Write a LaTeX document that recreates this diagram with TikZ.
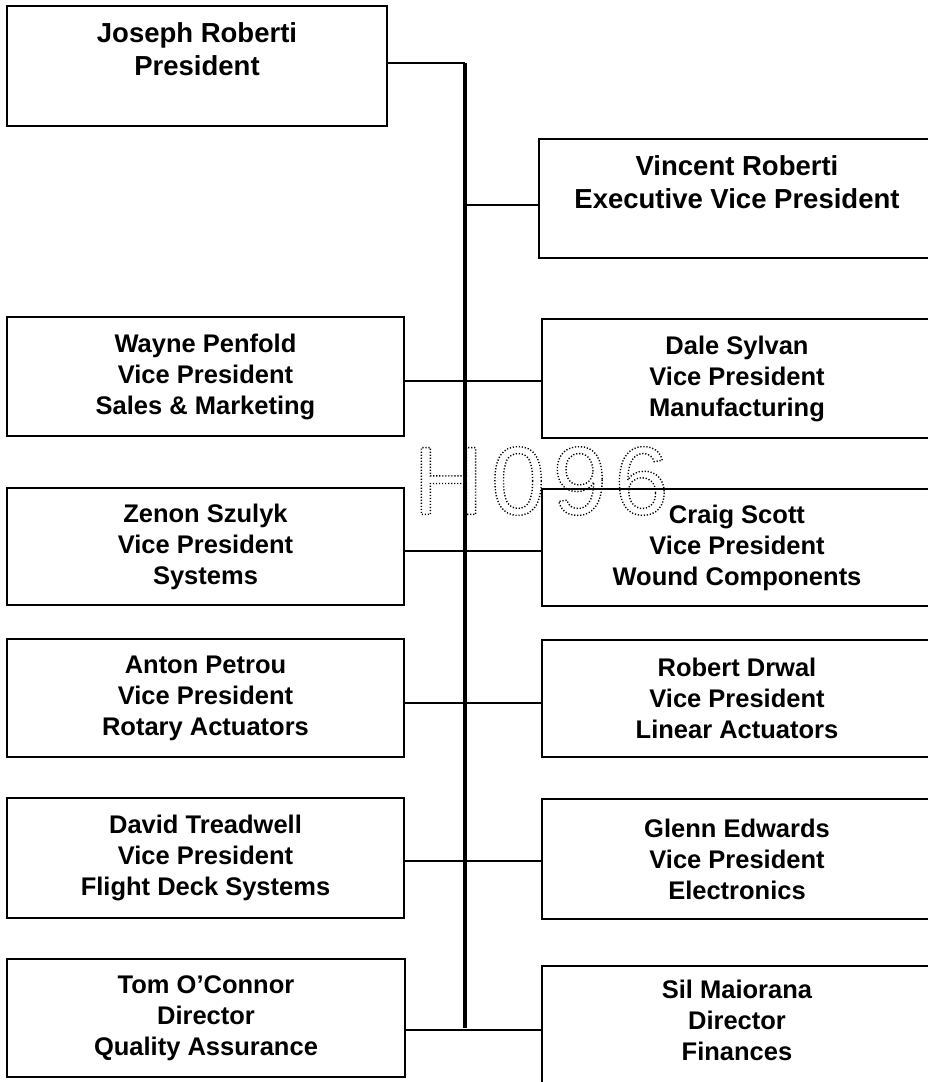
\documentclass[tikz,border=0pt]{standalone}
\usepackage{fontspec}
\setmainfont{Liberation Sans}
\newfontfamily\wmfont[LetterSpace=8]{Liberation Sans}
\begin{document}
\begin{tikzpicture}[x=1pt,y=-1pt,
  box/.style={draw=black, line width=2.1pt, inner sep=0pt, align=center,
    font=\bfseries\fontsize{25.5}{31}\selectfont},
  bigbox/.style={box, font=\bfseries\fontsize{27.5}{33}\selectfont},
  lbl/.style={inner sep=0pt, align=center, font=\bfseries\fontsize{25.5}{31}\selectfont},
  conn/.style={line width=2.6pt},
  trunkline/.style={line width=3.2pt}]
\useasboundingbox (0,0) rectangle (928,1082);
\fill[white] (0,0) rectangle (928,1082);
\clip (0,0) rectangle (928,1082);

% top boxes
\node[bigbox, minimum width=380pt, minimum height=120pt] (pres) at (197,66)
  {Joseph Roberti\\President\\\mbox{}};
\node[bigbox, minimum width=396pt, minimum height=119pt] (vin) at (737,198.5)
  {Vincent Roberti\\Executive Vice President\\\mbox{}};

% left column
\node[box, minimum width=397pt, minimum height=119pt] (way) at (205.5,376.5)
  {Wayne Penfold\\Vice President\\Sales \& Marketing};
\node[box, minimum width=397pt, minimum height=117pt] (zen) at (205.5,546.5)
  {Zenon Szulyk\\Vice President\\Systems};
\node[box, minimum width=397pt, minimum height=118pt] (ant) at (205.5,698)
  {Anton Petrou\\Vice President\\Rotary Actuators};
\node[box, minimum width=397pt, minimum height=120pt] (dav) at (205.5,858)
  {David Treadwell\\Vice President\\Flight Deck Systems};
\node[box, minimum width=398pt, minimum height=118pt] (tom) at (206,1018)
  {Tom O’Connor\\Director\\Quality Assurance};

% right column
\node[box, minimum width=390pt, minimum height=119pt] (dale) at (737,378.5)
  {Dale Sylvan\\Vice President\\Manufacturing};
\node[box, minimum width=390pt, minimum height=117pt] (cra) at (737,547.5)
  {Craig Scott\\Vice President\\Wound Components};
\node[box, minimum width=390pt, minimum height=117pt] (rob) at (737,698.5)
  {Robert Drwal\\Vice President\\Linear Actuators};
\node[box, minimum width=390pt, minimum height=120pt] (gle) at (737,859)
  {Glenn Edwards\\Vice President\\Electronics};
\node[box, minimum width=390pt, minimum height=134pt] (sil) at (737,1033) {};
\node[lbl] (silt) at (737,1020) {Sil Maiorana\\Director\\Finances};

% trunk and connectors
\coordinate (tt) at (465,63);
\coordinate (tb) at (465,1028);
\coordinate (jv) at (465,205);
\coordinate (r1) at (465,381);
\coordinate (r2) at (465,551);
\coordinate (r3) at (465,703);
\coordinate (r4) at (465,861);
\coordinate (r5) at (465,1030);

\draw[conn] ([yshift=3pt]pres.east) -- (tt);
\draw[trunkline] (tt) -- (tb);
\draw[conn] (jv) -- (jv -| vin.west);
\draw[conn] (r1 -| way.east) -- (r1 -| dale.west);
\draw[conn] (r2 -| zen.east) -- (r2 -| cra.west);
\draw[conn] (r3 -| ant.east) -- (r3 -| rob.west);
\draw[conn] (r4 -| dav.east) -- (r4 -| gle.west);
\draw[conn] (r5 -| tom.east) -- (r5 -| sil.west);

% watermark stamp
\node[inner sep=0pt, font=\wmfont\fontsize{97}{97}\selectfont] (wm) at (541,481)
  {\special{pdf:literal direct 1 Tr 1.4 w [1.2 1.8] 0 d}H096\special{pdf:literal direct 0 Tr 0.4 w [] 0 d}};
\end{tikzpicture}
\end{document}
